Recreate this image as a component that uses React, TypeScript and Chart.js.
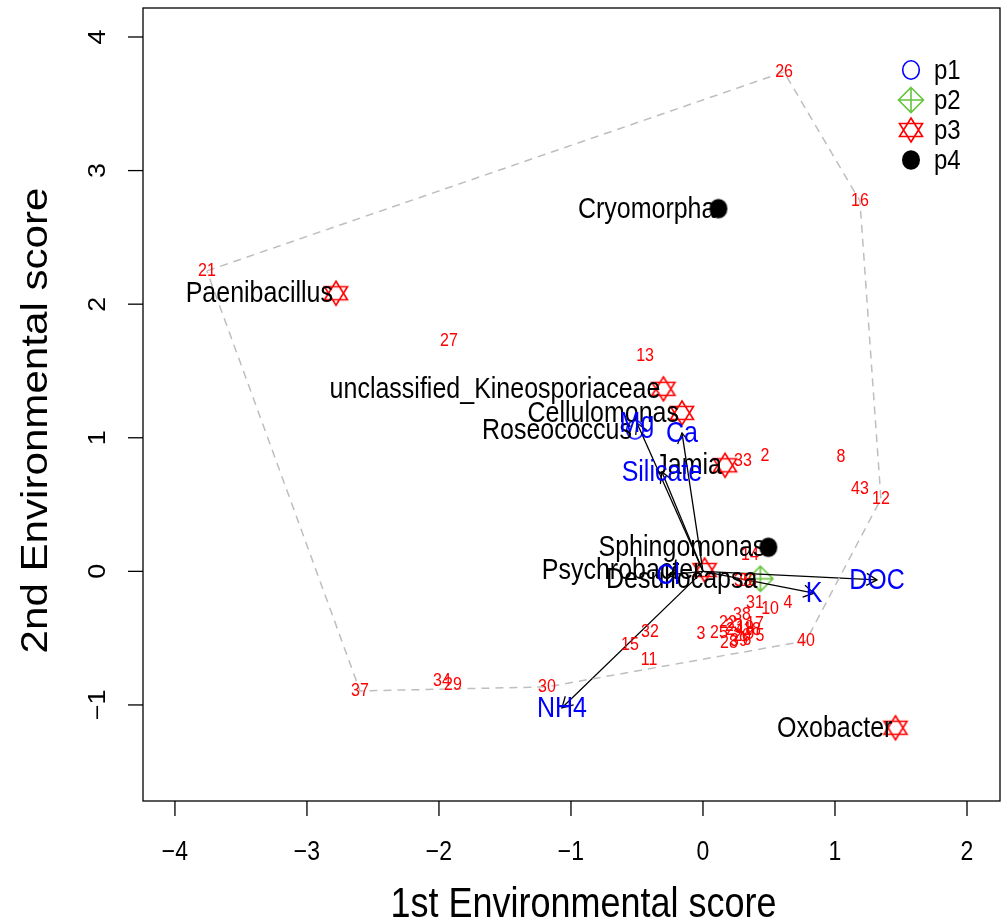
import React, { useEffect, useRef } from "react";
import { Chart, registerables } from "chart.js";

Chart.register(...registerables);

// ---- axes ----
const X_RANGE = [-4.242, 2.25];
const Y_RANGE = [-1.719, 4.217];
const X_TICKS = [-4, -3, -2, -1, 0, 1, 2];
const Y_TICKS = [-1, 0, 1, 2, 3, 4];
const X_TITLE = "1st Environmental score";
const Y_TITLE = "2nd Environmental score";

// ---- site scores (drawn as red numbers) ----
const SITE_IDS = [
  21, 26, 16, 27, 13, 33, 2, 8, 43, 12, 14, 35, 36, 31, 10, 4, 38, 3, 25, 22,
  23, 17, 24, 19, 18, 20, 9, 5, 6, 28, 39, 32, 15, 11, 40, 30, 34, 29, 37,
];
const SITE_X = [
  -3.758, 0.614, 1.189, -1.924, -0.439, 0.303, 0.47, 1.045, 1.189, 1.348, 0.356,
  0.303, 0.341, 0.394, 0.508, 0.644, 0.295, -0.015, 0.121, 0.189, 0.235, 0.394,
  0.242, 0.318, 0.372, 0.295, 0.356, 0.432, 0.333, 0.197, 0.273, -0.402, -0.553,
  -0.409, 0.78, -1.182, -1.977, -1.894, -2.598,
];
const SITE_Y = [
  2.249, 3.738, 2.772, 1.725, 1.612, 0.826, 0.864, 0.856, 0.617, 0.542, 0.123,
  -0.072, -0.072, -0.236, -0.281, -0.236, -0.326, -0.469, -0.461, -0.386, -0.409,
  -0.394, -0.439, -0.424, -0.439, -0.484, -0.469, -0.484, -0.513, -0.536, -0.521,
  -0.453, -0.55, -0.663, -0.521, -0.865, -0.82, -0.85, -0.895,
];
// outline of the site cloud, as site ids in drawing order
const HULL_IDS = [21, 26, 16, 12, 40, 30, 37, 21];

// ---- species ----
const SPECIES_NAMES = [
  "Cryomorpha",
  "Paenibacillus",
  "unclassified_Kineosporiaceae",
  "Cellulomonas",
  "Roseococcus",
  "Jamia",
  "Sphingomonas",
  "Psychrobacter",
  "Desulfocapsa",
  "Oxobacter",
];
const SPECIES_GROUP = ["p4", "p3", "p3", "p3", "p1", "p3", "p4", "p3", "p2", "p3"];
const SPECIES_X = [0.117, -2.78, -0.3, -0.159, -0.515, 0.167, 0.495, 0.012, 0.435, 1.458];
const SPECIES_Y = [2.715, 2.082, 1.366, 1.186, 1.06, 0.794, 0.18, 0.01, -0.055, -1.171];
const GROUPS = ["p1", "p2", "p3", "p4"];

// ---- environmental vectors ----
const ENV_NAMES = ["Mg", "Ca", "Silicate", "Cl", "K", "DOC", "NH4"];
const ENV_X = [-0.5, -0.159, -0.311, -0.265, 0.841, 1.318, -1.068];
const ENV_Y = [1.11, 1.036, 0.744, -0.027, -0.163, -0.064, -1.021];
const ENV_ORIGIN = [0, 0];

const FONT = '"Liberation Sans", Arial, Helvetica, sans-serif';
const RED = "#FF0000";
const BLUE = "#0000FF";
const GREEN = "#66C43E";
// glyphs are drawn taller than wide, like the device this figure style comes from
const STRETCH = 1.17;

function makeSymbol(group: string): HTMLCanvasElement {
  const c = document.createElement("canvas");
  c.width = 32;
  c.height = 32;
  const g = c.getContext("2d")!;
  g.translate(16, 16);
  g.lineWidth = 1.6;
  if (group === "p1") {
    g.strokeStyle = BLUE;
    g.beginPath();
    g.ellipse(0, 0, 8.3, 9.2, 0, 0, Math.PI * 2);
    g.stroke();
  } else if (group === "p2") {
    const r = 12.5;
    g.strokeStyle = GREEN;
    g.beginPath();
    g.moveTo(0, -r);
    g.lineTo(r, 0);
    g.lineTo(0, r);
    g.lineTo(-r, 0);
    g.closePath();
    g.moveTo(-r, 0);
    g.lineTo(r, 0);
    g.moveTo(0, -r);
    g.lineTo(0, r);
    g.stroke();
  } else if (group === "p3") {
    const h = 12;
    const w = 11.5;
    const b = 6.5;
    g.strokeStyle = RED;
    g.beginPath();
    g.moveTo(0, -h);
    g.lineTo(w, b);
    g.lineTo(-w, b);
    g.closePath();
    g.moveTo(0, h);
    g.lineTo(w, -b);
    g.lineTo(-w, -b);
    g.closePath();
    g.stroke();
  } else {
    g.fillStyle = "#000000";
    g.beginPath();
    g.ellipse(0, 0, 9, 9.8, 0, 0, Math.PI * 2);
    g.fill();
  }
  return c;
}

function drawText(
  ctx: CanvasRenderingContext2D,
  str: string,
  x: number,
  y: number,
  align: CanvasTextAlign,
  rotated = false
) {
  ctx.save();
  ctx.translate(x, y);
  if (rotated) {
    ctx.rotate(-Math.PI / 2);
    ctx.scale(STRETCH, 1);
  } else {
    ctx.scale(1, STRETCH);
  }
  ctx.textAlign = align;
  ctx.textBaseline = "middle";
  ctx.fillText(str, 0, 0);
  ctx.restore();
}

export default function App() {
  const ref = useRef<HTMLCanvasElement | null>(null);

  useEffect(() => {
    const canvas = ref.current;
    if (!canvas) return;
    const symbols: Record<string, HTMLCanvasElement> = {};
    GROUPS.forEach((g) => (symbols[g] = makeSymbol(g)));

    const siteIndex = (id: number) => SITE_IDS.indexOf(id);

    const datasets: any[] = [];
    // site scores: invisible points, labelled by the plugin
    datasets.push({
      label: "sites",
      data: SITE_IDS.map((_, i) => ({ x: SITE_X[i], y: SITE_Y[i] })),
      pointRadius: 0,
      showLine: false,
    });
    datasets.push({
      label: "hull",
      data: HULL_IDS.map((id) => ({ x: SITE_X[siteIndex(id)], y: SITE_Y[siteIndex(id)] })),
      showLine: true,
      borderColor: "#BEBEBE",
      borderWidth: 1.5,
      borderDash: [8, 6],
      pointRadius: 0,
      tension: 0,
    });
    ENV_NAMES.forEach((name, i) => {
      datasets.push({
        label: "env:" + name,
        data: [
          { x: ENV_ORIGIN[0], y: ENV_ORIGIN[1] },
          { x: ENV_X[i], y: ENV_Y[i] },
        ],
        showLine: true,
        borderColor: "#000000",
        borderWidth: 1.3,
        pointRadius: 0,
      });
    });
    GROUPS.forEach((g) => {
      const idx = SPECIES_NAMES.map((_, i) => i).filter((i) => SPECIES_GROUP[i] === g);
      datasets.push({
        label: g,
        data: idx.map((i) => ({ x: SPECIES_X[i], y: SPECIES_Y[i], name: SPECIES_NAMES[i] })),
        pointStyle: symbols[g],
        pointRadius: 12,
        showLine: false,
      });
    });

    const overlay = {
      id: "ordinationOverlay",
      afterDatasetsDraw(chart: any) {
        const ctx = chart.ctx as CanvasRenderingContext2D;
        const xs = chart.scales.x;
        const ys = chart.scales.y;
        const area = chart.chartArea;
        ctx.save();

        // site numbers
        const siteMeta = chart.getDatasetMeta(0);
        ctx.font = `16px ${FONT}`;
        ctx.fillStyle = RED;
        siteMeta.data.forEach((el: any, i: number) => {
          drawText(ctx, String(SITE_IDS[i]), el.x, el.y, "center");
        });

        // species names, to the left of their symbols
        ctx.font = `25px ${FONT}`;
        ctx.fillStyle = "#000000";
        chart.data.datasets.forEach((ds: any, di: number) => {
          if (!GROUPS.includes(ds.label)) return;
          const meta = chart.getDatasetMeta(di);
          meta.data.forEach((el: any, j: number) => {
            drawText(ctx, ds.data[j].name, el.x - 3, el.y + 1, "right");
          });
        });

        // arrow heads and variable names
        ctx.strokeStyle = "#000000";
        ctx.lineWidth = 1.3;
        const ox = xs.getPixelForValue(ENV_ORIGIN[0]);
        const oy = ys.getPixelForValue(ENV_ORIGIN[1]);
        ENV_NAMES.forEach((_name, i) => {
          const tx = xs.getPixelForValue(ENV_X[i]);
          const ty = ys.getPixelForValue(ENV_Y[i]);
          const ang = Math.atan2(ty - oy, tx - ox);
          const len = 12;
          const spread = Math.PI / 6;
          ctx.beginPath();
          ctx.moveTo(tx - len * Math.cos(ang - spread), ty - len * Math.sin(ang - spread));
          ctx.lineTo(tx, ty);
          ctx.lineTo(tx - len * Math.cos(ang + spread), ty - len * Math.sin(ang + spread));
          ctx.stroke();
        });
        ctx.font = `25px ${FONT}`;
        ctx.fillStyle = BLUE;
        ENV_NAMES.forEach((name, i) => {
          drawText(ctx, name, xs.getPixelForValue(ENV_X[i]), ys.getPixelForValue(ENV_Y[i]) + 1, "center");
        });

        // frame
        ctx.strokeStyle = "#000000";
        ctx.lineWidth = 1.3;
        ctx.strokeRect(area.left, area.top, area.right - area.left, area.bottom - area.top);

        // x axis
        ctx.fillStyle = "#000000";
        ctx.font = `23px ${FONT}`;
        X_TICKS.forEach((v) => {
          const px = xs.getPixelForValue(v);
          ctx.beginPath();
          ctx.moveTo(px, area.bottom);
          ctx.lineTo(px, area.bottom + 15);
          ctx.stroke();
          drawText(ctx, v < 0 ? "\u2212" + Math.abs(v) : String(v), px, area.bottom + 52, "center");
        });
        // y axis (labels parallel to the axis)
        Y_TICKS.forEach((v) => {
          const py = ys.getPixelForValue(v);
          ctx.beginPath();
          ctx.moveTo(area.left, py);
          ctx.lineTo(area.left - 15, py);
          ctx.stroke();
          drawText(ctx, v < 0 ? "\u2212" + Math.abs(v) : String(v), area.left - 44, py, "center", true);
        });
        ctx.font = `36px ${FONT}`;
        drawText(ctx, X_TITLE, (area.left + area.right) / 2 + 12, area.bottom + 104, "center");
        drawText(ctx, Y_TITLE, area.left - 106, (area.top + area.bottom) / 2 + 16, "center", true);

        // legend
        ctx.font = `24px ${FONT}`;
        GROUPS.forEach((g, i) => {
          const cy = area.top + 62 + i * 30;
          const cx = area.right - 89;
          const s = symbols[g];
          ctx.drawImage(s, cx - s.width / 2, cy - s.height / 2);
          drawText(ctx, g, cx + 23, cy + 1, "left");
        });

        ctx.restore();
      },
    };

    const chart = new Chart(canvas, {
      type: "scatter",
      data: { datasets },
      options: {
        animation: false,
        responsive: false,
        devicePixelRatio: 1,
        layout: { autoPadding: false, padding: { left: 143, right: 8, top: 8, bottom: 121 } },
        plugins: { legend: { display: false }, tooltip: { enabled: false } },
        events: [],
        scales: {
          x: { type: "linear", min: X_RANGE[0], max: X_RANGE[1], display: false },
          y: { type: "linear", min: Y_RANGE[0], max: Y_RANGE[1], display: false },
        },
      },
      plugins: [overlay],
    });
    return () => chart.destroy();
  }, []);

  return (
    <div style={{ position: "fixed", left: 0, top: 0, width: 1008, height: 922, background: "#ffffff" }}>
      <canvas ref={ref} width={1008} height={922} style={{ display: "block" }} />
    </div>
  );
}
